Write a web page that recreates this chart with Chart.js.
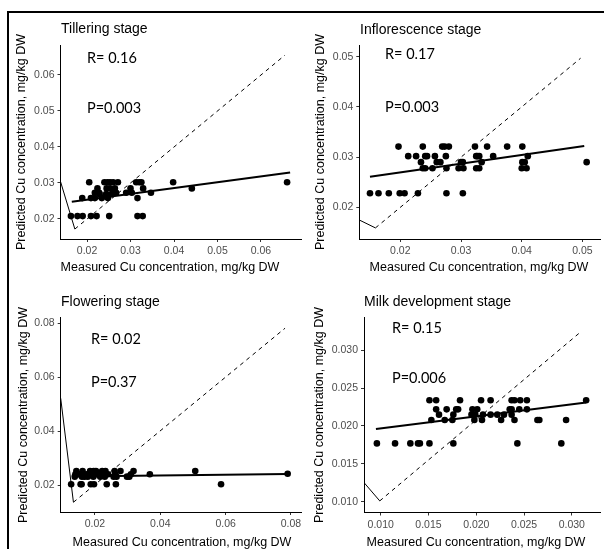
<!DOCTYPE html>
<html>
<head>
<meta charset="utf-8">
<script src="https://cdn.jsdelivr.net/npm/chart.js@4.4.1/dist/chart.umd.min.js"></script>
<style>
  html, body { margin: 0; padding: 0; background: #fff; }
  #page { position: relative; width: 604px; height: 549px; overflow: hidden; }
  #frame { position: absolute; left: 7px; top: 11px; right: -10px; bottom: -10px;
           border-left: 2px solid #000; border-top: 2px solid #000; }
  canvas { position: absolute; left: 0; top: 0; }
</style>
</head>
<body>
<div id="page">
  <div id="frame"></div>
  <canvas id="c1" width="604" height="549"></canvas>
  <canvas id="c2" width="604" height="549"></canvas>
  <canvas id="c3" width="604" height="549"></canvas>
  <canvas id="c4" width="604" height="549"></canvas>
</div>
<script>
// ---- data (measured, predicted) ----
var tilleringMeasured = [0.0163, 0.0178, 0.0190, 0.0209, 0.0222, 0.0251, 0.0316, 0.0328,
  0.0205, 0.0240, 0.0247, 0.0253, 0.0260, 0.0271, 0.0313, 0.0320, 0.0325, 0.0398, 0.0660,
  0.0224, 0.0245, 0.0253, 0.0264, 0.0300, 0.0329, 0.0441,
  0.0218, 0.0228, 0.0260, 0.0267, 0.0290, 0.0303, 0.0347,
  0.0229, 0.0244, 0.0257,
  0.0189, 0.0209, 0.0218, 0.0234, 0.0248, 0.0316];
var tilleringPredicted = [0.0208, 0.0208, 0.0208, 0.0208, 0.0208, 0.0208, 0.0208, 0.0208,
  0.0302, 0.0302, 0.0302, 0.0302, 0.0302, 0.0302, 0.0302, 0.0302, 0.0302, 0.0302, 0.0302,
  0.0285, 0.0285, 0.0285, 0.0285, 0.0285, 0.0285, 0.0285,
  0.0273, 0.0273, 0.0273, 0.0273, 0.0273, 0.0273, 0.0273,
  0.0269, 0.0269, 0.0269,
  0.0258, 0.0258, 0.0258, 0.0258, 0.0258, 0.0258];
var tilleringFitX = [0.0165, 0.0667];
var tilleringFitY = [0.0248, 0.0329];
var tilleringRefX = [0.0139, 0.0172, 0.0655];
var tilleringRefY = [0.0304, 0.0172, 0.0655];

var inflorescenceMeasured = [0.0197, 0.0237, 0.0269, 0.0273, 0.0280, 0.0323, 0.0343, 0.0376, 0.0401,
  0.0213, 0.0226, 0.0241, 0.0244, 0.0257, 0.0275, 0.0325, 0.0327, 0.0330, 0.0353, 0.0410,
  0.0234, 0.0260, 0.0266, 0.0300, 0.0303, 0.0334, 0.0401, 0.0405, 0.0507,
  0.0237, 0.0241, 0.0253, 0.0276, 0.0296, 0.0304, 0.0325, 0.0330, 0.0400, 0.0408,
  0.0150, 0.0164, 0.0181, 0.0199, 0.0207, 0.0229, 0.0276, 0.0303];
var inflorescencePredicted = [0.0321, 0.0321, 0.0321, 0.0321, 0.0321, 0.0321, 0.0321, 0.0321, 0.0321,
  0.0302, 0.0302, 0.0302, 0.0302, 0.0302, 0.0302, 0.0302, 0.0302, 0.0302, 0.0302, 0.0302,
  0.0290, 0.0290, 0.0290, 0.0290, 0.0290, 0.0290, 0.0290, 0.0290, 0.0290,
  0.0278, 0.0278, 0.0278, 0.0278, 0.0278, 0.0278, 0.0278, 0.0278, 0.0278, 0.0278,
  0.0228, 0.0228, 0.0228, 0.0228, 0.0228, 0.0228, 0.0228, 0.0228];
var inflorescenceFitX = [0.0150, 0.0503];
var inflorescenceFitY = [0.0261, 0.0322];
var inflorescenceRefX = [0.0132, 0.0159, 0.0497];
var inflorescenceRefY = [0.0175, 0.0159, 0.0497];

var floweringMeasured = [0.0127, 0.0156, 0.0159, 0.0187, 0.0197, 0.0236, 0.0264, 0.0586,
  0.0143, 0.0162, 0.0185, 0.0196, 0.0203, 0.0222, 0.0232, 0.0260, 0.0278, 0.0318, 0.0507,
  0.0140, 0.0152, 0.0165, 0.0175, 0.0181, 0.0190, 0.0205, 0.0213, 0.0226, 0.0240, 0.0262, 0.0310, 0.0368, 0.0790,
  0.0138, 0.0160, 0.0168, 0.0178, 0.0195, 0.0216, 0.0230, 0.0257, 0.0266, 0.0298, 0.0305];
var floweringPredicted = [0.0203, 0.0203, 0.0203, 0.0203, 0.0203, 0.0203, 0.0203, 0.0203,
  0.0252, 0.0252, 0.0252, 0.0252, 0.0252, 0.0252, 0.0252, 0.0252, 0.0252, 0.0252, 0.0252,
  0.0240, 0.0240, 0.0240, 0.0240, 0.0240, 0.0240, 0.0240, 0.0240, 0.0240, 0.0240, 0.0240, 0.0240, 0.0240, 0.0242,
  0.0231, 0.0231, 0.0231, 0.0231, 0.0231, 0.0231, 0.0231, 0.0231, 0.0231, 0.0231, 0.0231];
var floweringFitX = [0.0130, 0.0790];
var floweringFitY = [0.0232, 0.0241];
var floweringRefX = [0.0095, 0.0134, 0.0782];
var floweringRefY = [0.0522, 0.0136, 0.0782];

var milkMeasured = [0.0096, 0.0115, 0.0131, 0.0139, 0.0141, 0.0151, 0.0176, 0.0243, 0.0289,
  0.0151, 0.0158, 0.0183, 0.0205, 0.0215, 0.0237, 0.0240, 0.0246, 0.0253, 0.0315,
  0.0158, 0.0169, 0.0179, 0.0181, 0.0196, 0.0201, 0.0235, 0.0237, 0.0245, 0.0253,
  0.0161, 0.0176, 0.0195, 0.0199, 0.0207, 0.0215, 0.0222, 0.0229, 0.0237,
  0.0153, 0.0167, 0.0175, 0.0198, 0.0206, 0.0226, 0.0240, 0.0264, 0.0266, 0.0294];
var milkPredicted = [0.0177, 0.0177, 0.0177, 0.0177, 0.0177, 0.0177, 0.0177, 0.0177, 0.0177,
  0.0234, 0.0234, 0.0234, 0.0234, 0.0234, 0.0234, 0.0234, 0.0234, 0.0234, 0.0234,
  0.0222, 0.0222, 0.0222, 0.0222, 0.0222, 0.0222, 0.0222, 0.0222, 0.0222, 0.0222,
  0.0215, 0.0215, 0.0215, 0.0215, 0.0215, 0.0215, 0.0215, 0.0215, 0.0215,
  0.0208, 0.0208, 0.0208, 0.0208, 0.0208, 0.0208, 0.0208, 0.0208, 0.0208, 0.0208];
var milkFitX = [0.0095, 0.0315];
var milkFitY = [0.0196, 0.0231];
var milkRefX = [0.0082, 0.0099, 0.0309];
var milkRefY = [0.0126, 0.0101, 0.0324];

// tick labels
var tilleringXTicks = [0.02, 0.03, 0.04, 0.05, 0.06];
var tilleringYTicks = [0.02, 0.03, 0.04, 0.05, 0.06];
var inflorescenceXTicks = [0.02, 0.03, 0.04, 0.05];
var inflorescenceYTicks = [0.02, 0.03, 0.04, 0.05];
var floweringXTicks = [0.02, 0.04, 0.06, 0.08];
var floweringYTicks = [0.02, 0.04, 0.06, 0.08];
var milkXTicks = [0.010, 0.015, 0.020, 0.025, 0.030];
var milkYTicks = [0.010, 0.015, 0.020, 0.025, 0.030];

var Y_LABEL = 'Predicted Cu concentration, mg/kg DW';
var X_LABEL = 'Measured Cu concentration, mg/kg DW';
var TICK_FONT = { family: 'Liberation Sans, Arial, sans-serif', size: 10.5 };
var Y_AXIS_W = 40;
var X_AXIS_H = 30;

/** zip two arrays into {x, y} points */
function toPoints(xs, ys) {
  var pts = [];
  for (var i = 0; i < xs.length; i++) pts.push({ x: xs[i], y: ys[i] });
  return pts;
}

/** draws the panel title, R / P notes and both axis titles (page coordinates) */
var textPlugin = {
  id: 'panelText',
  afterDraw: function(chart, args, opts) {
    var ctx = chart.ctx;
    ctx.save();
    ctx.fillStyle = '#000';
    ctx.textBaseline = 'middle';
    (opts.items || []).forEach(function(t) {
      ctx.font = t.font;
      ctx.textAlign = t.align || 'left';
      if (t.rotate) {
        ctx.save();
        ctx.translate(t.x, t.y);
        ctx.rotate(-Math.PI / 2);
        ctx.textAlign = 'center';
        ctx.fillText(t.text, 0, 0);
        ctx.restore();
      } else {
        ctx.fillText(t.text, t.x, t.y);
      }
    });
    ctx.restore();
  }
};

function makeAxis(min, max, ticks, digits, isX) {
  return {
    type: 'linear',
    min: min,
    max: max,
    afterBuildTicks: function(s) { s.ticks = ticks.map(function(v) { return { value: v }; }); },
    afterFit: function(s) { if (isX) s.height = X_AXIS_H; else s.width = Y_AXIS_W; },
    ticks: {
      font: TICK_FONT,
      color: '#4d4d4d',
      padding: isX ? 3 : 3,
      callback: function(v) { return Number(v).toFixed(digits); }
    },
    grid: { drawOnChartArea: false, drawTicks: true, tickLength: 3, color: '#333', lineWidth: 1 },
    border: { display: true, color: '#000', width: 1 }
  };
}

/**
 * Builds one stage panel on its own full-page canvas; area = chart area in page px.
 */
function drawPanel(id, p) {
  var area = p.area;
  var datasets = [
    { data: toPoints(p.mx, p.py), pointRadius: 3.3, backgroundColor: '#000', borderWidth: 0, showLine: false, clip: 8 },
    { data: toPoints(p.fitX, p.fitY), showLine: true, pointRadius: 0, borderColor: '#000', borderWidth: 2 },
    { data: toPoints(p.refX.slice(0, 2), p.refY.slice(0, 2)), showLine: true, pointRadius: 0, borderColor: '#000', borderWidth: 1 },
    { data: toPoints(p.refX.slice(1), p.refY.slice(1)), showLine: true, pointRadius: 0, borderColor: '#000', borderWidth: 1, borderDash: [4, 4] }
  ];
  var note = '14.5px Lato, "Open Sans", sans-serif';
  var title = '14px "Liberation Sans", Arial, sans-serif';
  var axisTitle = '12.5px "Liberation Sans", Arial, sans-serif';
  var items = [
    { text: p.title, x: p.titlePos[0], y: p.titlePos[1], font: title },
    { text: p.r, x: p.notePos[0], y: p.notePos[1], font: note },
    { text: p.p, x: p.notePos[0], y: p.notePos[2], font: note },
    { text: Y_LABEL, x: p.yTitlePos[0], y: p.yTitlePos[1], font: axisTitle, rotate: true },
    { text: X_LABEL, x: p.xTitlePos[0], y: p.xTitlePos[1], font: axisTitle, align: 'center' }
  ];
  return new Chart(document.getElementById(id), {
    type: 'scatter',
    data: { datasets: datasets },
    options: {
      responsive: false,
      animation: false,
      devicePixelRatio: 1,
      layout: { padding: {
        left: area[0] - Y_AXIS_W, top: area[1],
        right: 604 - area[2], bottom: 549 - area[3] - X_AXIS_H } },
      scales: {
        x: makeAxis(p.xMin, p.xMax, p.xTicks, p.digits, true),
        y: makeAxis(p.yMin, p.yMax, p.yTicks, p.digits, false)
      },
      plugins: { legend: { display: false }, tooltip: { enabled: false }, panelText: { items: items } }
    },
    plugins: [textPlugin]
  });
}

drawPanel('c1', {
  area: [60.5, 45, 301, 239], xMin: 0.0139, xMax: 0.0692, yMin: 0.01444, yMax: 0.06833,
  xTicks: tilleringXTicks, yTicks: tilleringYTicks, digits: 2,
  mx: tilleringMeasured, py: tilleringPredicted, fitX: tilleringFitX, fitY: tilleringFitY,
  refX: tilleringRefX, refY: tilleringRefY,
  title: 'Tillering stage', titlePos: [61, 29], r: 'R= 0.16', p: 'P=0.003', notePos: [87, 58, 108],
  yTitlePos: [22, 142], xTitlePos: [170, 268]
});
drawPanel('c2', {
  area: [359.3, 45.7, 604, 239], xMin: 0.01324, xMax: 0.0529, yMin: 0.01369, yMax: 0.0522,
  xTicks: inflorescenceXTicks, yTicks: inflorescenceYTicks, digits: 2,
  mx: inflorescenceMeasured, py: inflorescencePredicted, fitX: inflorescenceFitX, fitY: inflorescenceFitY,
  refX: inflorescenceRefX, refY: inflorescenceRefY,
  title: 'Inflorescence stage', titlePos: [360, 30], r: 'R= 0.17', p: 'P=0.003', notePos: [385, 54, 107],
  yTitlePos: [321, 142], xTitlePos: [479, 268]
});
drawPanel('c3', {
  area: [60.7, 317.7, 301.7, 512], xMin: 0.0095, xMax: 0.0833, yMin: 0.00998, yMax: 0.0821,
  xTicks: floweringXTicks, yTicks: floweringYTicks, digits: 2,
  mx: floweringMeasured, py: floweringPredicted, fitX: floweringFitX, fitY: floweringFitY,
  refX: floweringRefX, refY: floweringRefY,
  title: 'Flowering stage', titlePos: [61, 302], r: 'R= 0.02', p: 'P=0.37', notePos: [91, 339, 382],
  yTitlePos: [24, 415], xTitlePos: [182, 543]
});
drawPanel('c4', {
  area: [364, 317.7, 604, 512.5], xMin: 0.00825, xMax: 0.03295, yMin: 0.00857, yMax: 0.03431,
  xTicks: milkXTicks, yTicks: milkYTicks, digits: 3,
  mx: milkMeasured, py: milkPredicted, fitX: milkFitX, fitY: milkFitY,
  refX: milkRefX, refY: milkRefY,
  title: 'Milk development stage', titlePos: [364, 302], r: 'R= 0.15', p: 'P=0.006', notePos: [392, 328, 378],
  yTitlePos: [320, 415], xTitlePos: [476, 543]
});
</script>
</body>
</html>
